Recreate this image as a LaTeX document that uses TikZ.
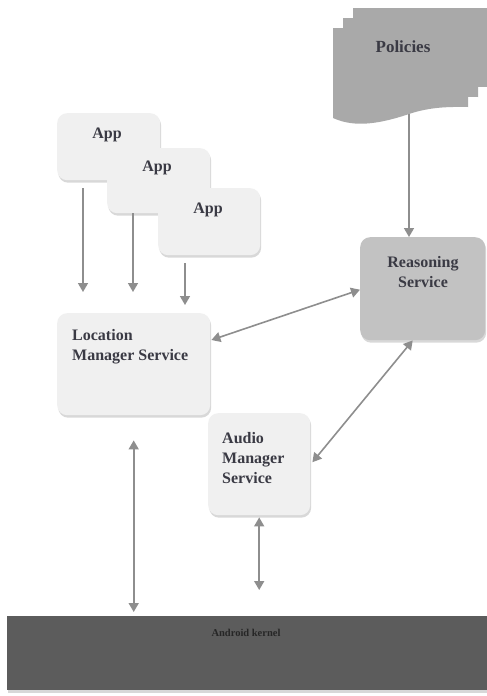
\documentclass[tikz,border=0pt]{standalone}
\usepackage{fontspec}
\setmainfont{Liberation Serif}
\usetikzlibrary{shadows,calc,arrows.meta}
\definecolor{boxfill}{HTML}{F0F0F0}
\definecolor{reasonfill}{HTML}{C2C2C2}
\definecolor{polfill}{HTML}{A9A9A9}
\definecolor{kernfill}{HTML}{5C5C5C}
\definecolor{arrowgray}{HTML}{8E8E8E}
\definecolor{txt}{HTML}{3A3A44}
\tikzset{
  sbox/.style={draw=none, fill=boxfill, rounded corners=10pt, anchor=north west,
    drop shadow={opacity=0.3, shadow xshift=1pt, shadow yshift=-2.5pt}},
  lbl/.style={text=txt, font=\fontsize{16}{20}\selectfont\bfseries, inner sep=0pt},
  conn/.style={draw=arrowgray, line width=1.6pt, -{Triangle[width=10pt,length=9pt]}},
  bconn/.style={draw=arrowgray, line width=1.6pt, {Triangle[width=10pt,length=9pt]}-{Triangle[width=10pt,length=9pt]}},
  sheet/.style={fill=polfill, draw=none}
}
\begin{document}
\begin{tikzpicture}[x=1pt,y=-1pt]
\useasboundingbox[fill=white] (0,0) rectangle (487,696);
% Policies (stacked documents)
\foreach \d in {20,10,0}{
  \begin{scope}[shift={(\d,-\d)}]
  \fill[sheet] (333,28) -- (468,28) -- (468,107)
     .. controls (455,107) and (435,106) .. (412,113)
     .. controls (380,124) and (355,128) .. (333,118) -- cycle;
  \end{scope}
}
\node[lbl, font=\fontsize{17}{20}\selectfont\bfseries] (pol) at (403,47) {Policies};
\coordinate (polbottom) at (409,114);

% Apps
\node[sbox, minimum width=103pt, minimum height=67pt] (app1) at (57,113) {};
\node[lbl] (app1t) at (107,135) {App};
\node[sbox, minimum width=103pt, minimum height=65pt] (app2) at (107,148) {};
\node[lbl] (app2t) at (157,168) {App};
\node[sbox, minimum width=102pt, minimum height=67pt] (app3) at (158,188) {};
\node[lbl] (app3t) at (208,210) {App};

% Services
\node[sbox, minimum width=153pt, minimum height=102pt] (loc) at (57,313) {};
\node[lbl, anchor=west, align=left] (loct) at (72,347) {Location\\Manager Service};
\node[sbox, fill=reasonfill, minimum width=125pt, minimum height=103pt] (reason) at (360,237) {};
\node[lbl, align=center] (reasont) at (423,272) {Reasoning\\Service};
\node[sbox, minimum width=102pt, minimum height=102pt] (audio) at (208,413) {};
\node[lbl, anchor=west, align=left] (audiot) at (222,458) {Audio\\Manager\\Service};

% Kernel
\node[sbox, fill=kernfill, rounded corners=0pt, minimum width=480pt, minimum height=74pt] (kernel) at (7,616) {};
\node[text=black!85, font=\fontsize{10.5}{12}\selectfont\bfseries, inner sep=0pt] (kernt) at (246,633) {Android kernel};

% Connectors
\coordinate (a1end) at (83,292);
\coordinate (a2end) at (133,292);
\coordinate (a3end) at (185,305);
\draw[conn] (83,0 |- app1.south) ++(0,8) -- (a1end);
\draw[conn] (133,0 |- app2.south) -- (a2end);
\draw[conn] (185,0 |- app3.south) ++(0,8) -- (a3end);
\draw[conn] (polbottom) -- (reason.north -| polbottom);
\draw[bconn] ($(loc.north east)+(1,27)$) -- ($(reason.west)+(0,1)$);
\draw[bconn] ($(reason.south)+(-10,0)$) -- ($(audio.east)+(2,-2)$);
\draw[bconn] ($(loc.south)+(0,25)$) -- ($(kernel.north -| loc.south)+(0,-4)$);
\draw[bconn] ($(audio.south)+(0,2)$) -- ($(kernel.north -| audio.south)+(0,-26)$);
\end{tikzpicture}
\end{document}
